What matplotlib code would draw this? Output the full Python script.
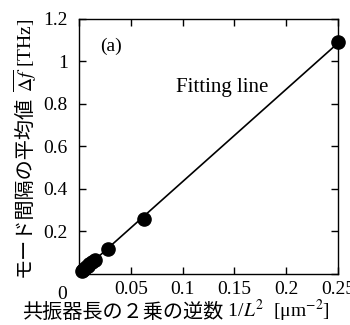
import numpy as np
import matplotlib
matplotlib.use("Agg")
import matplotlib.pyplot as plt

plt.rcParams['font.family'] = ['Liberation Serif', 'Noto Sans CJK JP', 'DejaVu Sans']
plt.rcParams['mathtext.fontset'] = 'stix'

# data: inverse square of cavity length [um^-2] and mean mode spacing [THz]
inv_L2 = [0.25, 0.0625, 0.0278, 0.0156, 0.0123, 0.0100, 0.0083, 0.0069, 0.0051, 0.0039, 0.0025]
mode_spacing = [1.09, 0.258, 0.118, 0.068, 0.055, 0.046, 0.038, 0.032, 0.024, 0.019, 0.013]

x_ticks = [0, 0.05, 0.1, 0.15, 0.2, 0.25]
x_ticklabels = ['', '0.05', '0.1', '0.15', '0.2', '0.25']
y_ticks = [0, 0.2, 0.4, 0.6, 0.8, 1.0, 1.2]
y_ticklabels = ['', '0.2', '0.4', '0.6', '0.8', '1', '1.2']

xlabel_jp = '共振器長の２乗の逆数'
xlabel_math = ' 1/$L^2$  [μm$^{-2}$]'
ylabel_jp = 'モード間隔の平均値'
ylabel_math = ' $\\overline{\\Delta f}$ [THz]'

fig = plt.figure(figsize=(3.5, 3.25), dpi=100)
ax = fig.add_axes([0.226, 0.157, 0.740, 0.785])

slope, intercept = np.polyfit(inv_L2, mode_spacing, 1)
xf = np.array([min(inv_L2), max(inv_L2)])
ax.plot(xf, slope * xf + intercept, color='black', lw=1.2, zorder=2)
ax.plot(inv_L2, mode_spacing, 'o', color='black', ms=9.5, clip_on=False, zorder=3)

ax.set_xlim(0, 0.25)
ax.set_ylim(0, 1.2)
ax.set_xticks(x_ticks)
ax.set_xticklabels(x_ticklabels)
ax.set_yticks(y_ticks)
ax.set_yticklabels(y_ticklabels)
ax.tick_params(direction='in', length=5, width=1, top=True, right=True,
               labelsize=14, pad=5)
ax.tick_params(axis='y', pad=8)
for s in ax.spines.values():
    s.set_linewidth(1)

ax.text(-0.065, -0.048, '0', transform=ax.transAxes, fontsize=14,
        ha='center', va='top')

ax.text(0.02, 1.07, '(a)', fontsize=14, ha='left', va='center')
ax.text(0.094, 0.875, 'Fitting line', fontsize=15, ha='left', va='center')

# composed axis labels (CJK sans + serif math)
renderer = fig.canvas.get_renderer()
W, H = 350.0, 325.0
fs_jp = 14.5
fs_m = 14

# x label
t1 = fig.text(0, 0, xlabel_jp, fontsize=fs_jp, family='Noto Sans CJK JP',
              ha='left', va='center')
t2 = fig.text(0, 0, xlabel_math, fontsize=fs_m, ha='left', va='center')
w1 = t1.get_window_extent(renderer).width
w2 = t2.get_window_extent(renderer).width
x0 = 22
yc = 1 - 312 / H
t1.set_position((x0 / W, yc))
t2.set_position(((x0 + w1) / W, yc + 0.004))

# y label
u1 = fig.text(0, 0, ylabel_jp, fontsize=fs_jp, family='Noto Sans CJK JP',
              rotation=90, ha='center', va='bottom')
u2 = fig.text(0, 0, ylabel_math, fontsize=fs_m, rotation=90, ha='center', va='bottom')
h1 = u1.get_window_extent(renderer).height
h2 = u2.get_window_extent(renderer).height
y_start = 325 - 277
xc = 24 / W
u1.set_position((xc, y_start / H))
u2.set_position((xc + 0.004, (y_start + h1) / H))

fig.savefig('out.png', dpi=100)
